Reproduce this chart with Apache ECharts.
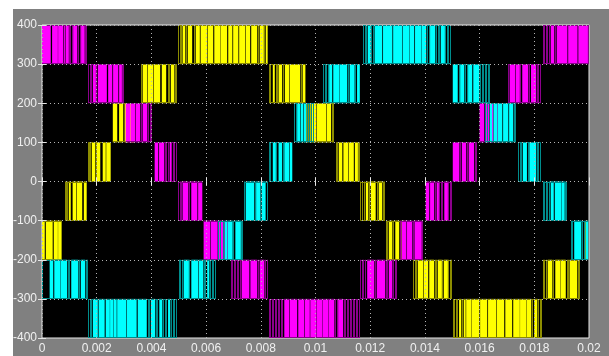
<!DOCTYPE html>
<html>
<head>
<meta charset="utf-8">
<script src="https://cdn.jsdelivr.net/npm/echarts@6/dist/echarts.min.js"></script>
<style>
  html, body { margin: 0; padding: 0; background: #ffffff; }
  #frame { position: absolute; left: 13px; top: 9px; width: 596px; height: 347px; background: #808080; }
  #main { position: absolute; left: 0; top: 0; width: 609px; height: 356px; }
</style>
</head>
<body>
<div id="frame"></div>
<div id="main"></div>
<script>
// Axis tick labels
const xTickLabels = ['0', '0.002', '0.004', '0.006', '0.008', '0.01', '0.012', '0.014', '0.016', '0.018', '0.02'];
const yTickLabels = ['-400', '-300', '-200', '-100', '0', '100', '200', '300', '400'];

// Phase voltage PWM, one entry per level band:
// [lower level (V), on-intervals in ms as flat start/end pairs, narrow pulse instants in ms]
const phaseA = [
  [-200, [0, 0.09, 0.15, 0.38, 0.44, 0.57, 0.60, 0.69], [0.72]],
  [-100, [0.99, 1.04, 1.13, 1.24, 1.28, 1.46, 1.54, 1.61], [0.86, 0.90, 0.93, 1.64]],
  [0, [1.83, 1.94, 2.02, 2.12, 2.23, 2.32, 2.36, 2.50], [1.70, 1.74, 1.77, 1.99]],
  [100, [2.60, 2.74, 2.83, 2.96, 3.03, 3.14, 3.22, 3.36], [3.39]],
  [200, [3.69, 3.84, 3.88, 4.06, 4.10, 4.31, 4.39, 4.53, 4.72, 4.83], [3.62, 4.62, 4.66, 4.88, 4.92]],
  [300, [5.15, 5.23, 5.34, 5.48, 5.63, 5.76, 5.81, 6.03, 6.07, 6.25, 6.31, 6.51, 6.54, 6.76, 6.82, 6.95, 7.00, 7.17, 7.22, 7.42, 7.46, 7.60, 7.66, 7.86, 7.97, 8.10, 8.19, 8.24], [4.99, 5.05, 5.10, 5.28, 5.56, 7.92, 8.13]],
  [200, [8.45, 8.50, 8.66, 8.77, 8.89, 9.03, 9.07, 9.43, 9.54, 9.62], [8.30, 8.37, 8.56, 8.61, 8.83, 9.49]],
  [100, [9.82, 10.02, 10.06, 10.38, 10.42, 10.56], [9.58, 9.66, 9.72, 9.76, 10.62, 10.66]],
  [0, [10.86, 10.97, 11.03, 11.19, 11.23, 11.39, 11.45, 11.54], [10.77, 10.82, 11.57, 11.61]],
  [-100, [11.85, 11.92, 12.03, 12.19, 12.32, 12.43], [11.66, 11.72, 11.79, 11.98, 12.25, 12.48, 12.54]],
  [-200, [12.69, 12.80, 12.94, 13.05, 13.16, 13.23], [12.58, 12.65, 12.85, 12.91, 13.11, 13.29]],
  [-300, [13.75, 13.93, 13.97, 14.11, 14.17, 14.33, 14.48, 14.61, 14.70, 14.83], [13.58, 13.64, 13.69, 14.39, 14.44, 14.64, 14.88, 14.94, 14.97]],
  [-400, [15.26, 15.32, 15.43, 15.48, 15.52, 15.69, 15.72, 15.98, 16.03, 16.27, 16.32, 16.60, 16.64, 16.89, 16.95, 17.18, 17.24, 17.46, 17.49, 17.70, 17.73, 17.88, 18.02, 18.10], [15.04, 15.10, 15.16, 15.21, 15.37, 17.93, 17.99, 18.15, 18.21, 18.26]],
  [-300, [18.50, 18.65, 18.79, 18.94, 18.97, 19.14, 19.30, 19.56], [18.33, 18.39, 18.45, 18.70, 18.76, 19.20, 19.25, 19.61, 19.67]],
  [-200, [], [19.88, 19.95]]
];

const phaseB = [
  [300, [0, 0.31, 0.38, 0.57, 0.60, 0.77, 0.82, 0.84, 0.88, 0.97, 1.15, 1.28, 1.44, 1.55], [1.00, 1.06, 1.12, 1.33, 1.39, 1.59, 1.63]],
  [200, [1.87, 1.96, 2.05, 2.36, 2.43, 2.56, 2.61, 2.78, 2.83, 2.91], [1.70, 1.76, 1.81, 2.01, 2.94, 2.98]],
  [100, [3.07, 3.22, 3.25, 3.40, 3.44, 3.58, 3.69, 3.84], [3.64, 3.89, 3.95, 4.00]],
  [0, [4.13, 4.24, 4.29, 4.46, 4.68, 4.73], [4.50, 4.57, 4.62, 4.79, 4.84, 4.90]],
  [-100, [5.15, 5.34, 5.48, 5.67, 5.72, 5.85], [4.99, 5.05, 5.10, 5.39, 5.45]],
  [-200, [5.92, 6.14, 6.18, 6.40, 6.43, 6.62], [6.67, 6.73, 6.80, 6.91]],
  [-300, [7.31, 7.57, 7.63, 7.86, 7.97, 8.12], [6.93, 6.98, 7.04, 7.09, 7.15, 7.20, 7.26, 7.92, 8.17, 8.23]],
  [-400, [8.87, 9.03, 9.07, 9.32, 9.38, 9.58, 9.62, 9.78, 9.82, 10.02, 10.05, 10.24, 10.27, 10.46, 10.49, 10.68, 10.84, 11.00], [8.32, 8.37, 8.43, 8.48, 8.54, 8.59, 8.65, 8.70, 8.76, 8.81, 10.73, 10.79, 11.06, 11.11, 11.17, 11.22, 11.28, 11.33, 11.39, 11.44, 11.50, 11.55, 11.61]],
  [-300, [11.90, 12.14, 12.25, 12.54, 12.69, 12.80], [11.66, 11.72, 11.77, 11.83, 12.19, 12.59, 12.65, 12.85, 12.91, 12.96]],
  [-200, [13.16, 13.31, 13.35, 13.53, 13.63, 13.86], [13.11, 13.58, 13.89, 13.93]],
  [-100, [14.04, 14.15, 14.20, 14.33, 14.44, 14.50, 14.72, 14.83], [14.39, 14.55, 14.61, 14.66, 14.88, 14.94, 14.97]],
  [0, [15.03, 15.25, 15.36, 15.50, 15.61, 15.79], [15.30, 15.56, 15.85, 15.89]],
  [100, [16.01, 16.16, 16.21, 16.34, 16.39, 16.49], [16.56, 16.67, 16.74]],
  [200, [17.11, 17.29, 17.33, 17.46, 17.57, 17.77, 17.89, 18.06], [17.04, 17.51, 17.82, 18.12, 18.17, 18.23]],
  [300, [18.61, 18.72, 18.83, 19.20, 19.25, 19.57, 19.62, 19.95], [18.32, 18.39, 18.44, 18.50, 18.55, 18.77, 19.99]]
];

const phaseC = [
  [-300, [0.29, 0.40, 0.46, 0.66, 0.69, 0.91, 1.08, 1.32, 1.43, 1.57], [0.02, 0.97, 1.02, 1.37, 1.63, 1.66]],
  [-400, [1.87, 2.03, 2.08, 2.28, 2.34, 2.47, 2.50, 2.60, 2.63, 2.72, 2.76, 3.07, 3.11, 3.45, 3.51, 3.82, 3.99, 4.13, 4.30, 4.39, 4.62, 4.68], [1.70, 1.76, 1.81, 3.88, 3.93, 4.19, 4.24, 4.44, 4.50, 4.55, 4.73, 4.79, 4.84, 4.90]],
  [-300, [5.19, 5.36, 5.47, 5.70, 5.74, 5.89, 6.05, 6.11], [5.03, 5.08, 5.14, 5.41, 5.94, 5.99, 6.16, 6.22, 6.27, 6.33]],
  [-200, [6.69, 6.76, 6.80, 6.96, 7.08, 7.26], [6.47, 6.54, 6.62, 7.02, 7.29, 7.33]],
  [-100, [7.46, 7.75, 7.84, 7.98, 8.04, 8.15], [7.40, 7.80, 8.19, 8.23]],
  [0, [8.45, 8.54, 8.66, 8.77, 8.87, 9.03, 9.07, 9.14], [8.30, 8.37, 8.59, 8.83]],
  [100, [9.34, 9.43, 9.47, 9.54, 9.58, 9.65], [9.23, 9.29, 9.71, 9.78, 9.85, 9.94]],
  [200, [10.51, 10.60, 10.66, 10.86, 10.89, 11.15, 11.26, 11.42, 11.53, 11.61], [10.29, 10.35, 10.40, 10.46, 11.20, 11.48]],
  [300, [11.92, 12.01, 12.17, 12.43, 12.48, 12.80, 12.85, 13.16, 13.20, 13.42, 13.45, 13.60, 13.65, 13.86, 13.89, 14.04, 14.20, 14.37, 14.59, 14.72], [11.74, 11.81, 11.85, 12.06, 12.12, 14.09, 14.15, 14.42, 14.48, 14.53, 14.77, 14.83, 14.88, 14.94]],
  [200, [15.03, 15.19, 15.30, 15.43, 15.59, 15.72, 15.78, 15.98], [15.25, 15.48, 15.54, 16.03, 16.09, 16.14, 16.20, 16.25, 16.31, 16.36]],
  [100, [16.38, 16.45, 16.52, 16.63, 16.67, 16.82, 16.87, 17.04, 17.09, 17.22], [16.23, 16.30, 17.27, 17.31]],
  [0, [17.59, 17.72, 17.83, 18.06], [17.42, 17.48, 17.53, 17.77, 18.12, 18.17, 18.23]],
  [-100, [18.61, 18.70, 18.76, 18.98, 19.01, 19.10], [18.34, 18.39, 18.45, 18.50, 18.56, 19.15, 19.19]],
  [-200, [19.47, 19.71, 19.89, 19.96], [19.36, 19.41, 19.76, 19.82]]
];

const BAND = 100; // voltage step between adjacent levels

const palettes = [
  { bright: '#ffff00', dim: '#8c8c00' },
  { bright: '#ff00ff', dim: '#8c008c' },
  { bright: '#00ffff', dim: '#008c8c' }
];

// Flatten band list into drawable items: [t0 (s), t1 (s), level, kind]
// kind 0 = on-interval, 1 = narrow pulse, 2 = band outline
function buildItems(bands) {
  const narrow = [], wide = [], outline = [];
  bands.forEach(([lo, on, thin]) => {
    const times = [];
    for (let i = 0; i < on.length; i += 2) {
      wide.push([on[i] / 1000, on[i + 1] / 1000, lo, 0]);
      times.push(on[i], on[i + 1]);
    }
    thin.forEach(t => { narrow.push([t / 1000, t / 1000, lo, 1]); times.push(t); });
    outline.push([Math.min(...times) / 1000, Math.max(...times) / 1000, lo, 2]);
  });
  return narrow.concat(wide, outline);
}

function renderItem(params, api) {
  const t0 = api.value(0), t1 = api.value(1), lo = api.value(2), kind = api.value(3);
  const a = api.coord([t0, lo + BAND]);
  const b = api.coord([t1, lo]);
  const pal = palettes[params.seriesIndex];
  if (kind === 0) {
    // each trace edge is a 1px line, so a pulse covers half a pixel past each edge
    return { type: 'rect', shape: { x: a[0] - 0.3, y: a[1], width: Math.max(b[0] - a[0], 0.6) + 0.6, height: b[1] - a[1] },
             style: { fill: pal.bright } };
  }
  if (kind === 1) {
    return { type: 'rect', shape: { x: Math.floor(a[0]), y: a[1], width: 1, height: b[1] - a[1] },
             style: { fill: pal.dim } };
  }
  const yTop = Math.round(a[1]) + 0.5, yBot = Math.round(b[1]) - 0.5;
  return { type: 'group', children: [
    { type: 'line', shape: { x1: a[0], y1: yTop, x2: b[0], y2: yTop }, style: { stroke: pal.dim, lineWidth: 1 } },
    { type: 'line', shape: { x1: a[0], y1: yBot, x2: b[0], y2: yBot }, style: { stroke: pal.dim, lineWidth: 1 } }
  ] };
}

const labelFont = { color: '#f0f0f0', fontSize: 12, fontFamily: 'Liberation Sans, Arial, sans-serif' };
const tickStyle = { inside: true, length: 4, lineStyle: { color: '#e6e6e6', width: 1 } };
const gridDots = { show: true, lineStyle: { color: '#b4b4b4', width: 1, type: [1, 3] } };

const chart = echarts.init(document.getElementById('main'), null, { renderer: 'canvas' });
chart.setOption({
  backgroundColor: 'transparent',
  animation: false,
  grid: { left: 42, right: 20, top: 25, bottom: 18, show: true, backgroundColor: '#000000', borderColor: '#e6e6e6', borderWidth: 1 },
  xAxis: [
    { type: 'value', min: 0, max: 0.02, interval: 0.002, position: 'bottom', z: 5,
      axisLine: { show: false }, axisTick: tickStyle, splitLine: gridDots,
      axisLabel: Object.assign({ margin: 5, formatter: v => xTickLabels[Math.round(v / 0.002)] }, labelFont) },
    { type: 'value', min: 0, max: 0.02, interval: 0.002, position: 'top', z: 5,
      axisLine: { show: false }, axisTick: tickStyle, splitLine: { show: false }, axisLabel: { show: false } }
  ],
  yAxis: [
    { type: 'value', min: -400, max: 400, interval: 100, position: 'left', z: 5,
      axisLine: { show: false }, axisTick: tickStyle, splitLine: gridDots,
      axisLabel: Object.assign({ margin: 5, formatter: v => yTickLabels[Math.round((v + 400) / 100)] }, labelFont) },
    { type: 'value', min: -400, max: 400, interval: 100, position: 'right', z: 5,
      axisLine: { show: false }, axisTick: tickStyle, splitLine: { show: false }, axisLabel: { show: false } }
  ],
  series: [phaseA, phaseB, phaseC].map((bands, i) => ({
    name: ['Va', 'Vb', 'Vc'][i],
    type: 'custom',
    xAxisIndex: 0,
    yAxisIndex: 0,
    z: 1,
    clip: true,
    silent: true,
    renderItem: renderItem,
    encode: { x: [0, 1], y: 2 },
    data: buildItems(bands)
  }))
});
</script>
</body>
</html>
